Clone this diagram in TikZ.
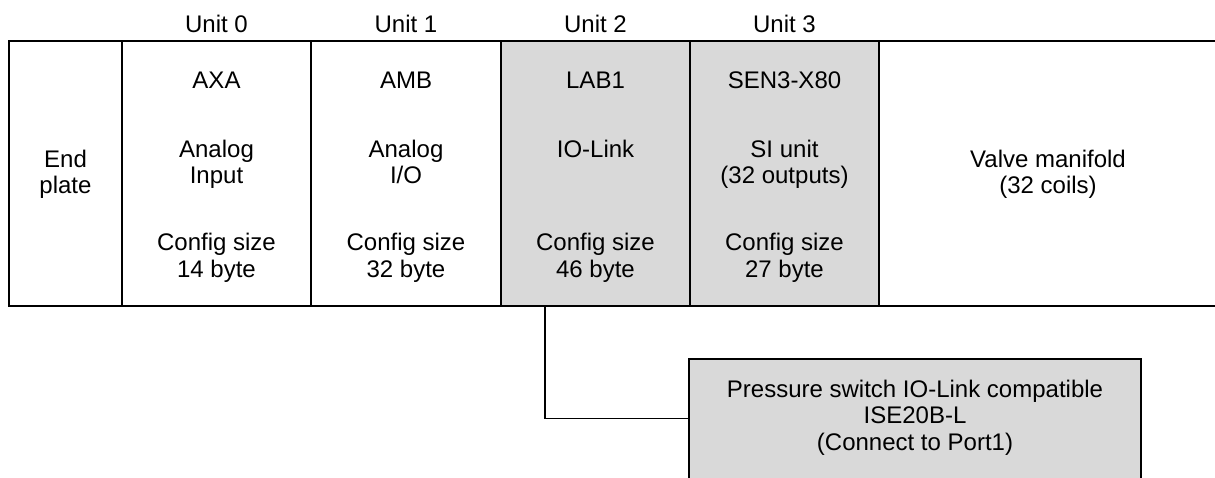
\documentclass[tikz,border=0pt]{standalone}
\usepackage{fontspec}
\setmainfont{Liberation Sans}
\definecolor{cellgray}{HTML}{D9D9D9}
\begin{document}
\begin{tikzpicture}[x=1pt,y=-1pt,
  cellbox/.style={draw, line width=2pt, minimum height=265pt, inner sep=0pt},
  grayfill/.style={fill=cellgray},
  txt/.style={font=\fontsize{24}{26.5}\selectfont, anchor=base, inner sep=0pt},
  conn/.style={line width=1.4pt},
  psbox/.style={draw, fill=cellgray, line width=1.6pt, minimum width=452pt, minimum height=125pt, inner sep=0pt}]
\useasboundingbox (0,0) rectangle (1215,477);
% cells
\node[cellbox, minimum width=113pt] (ep) at (65.5,173.5) {};
\node[cellbox, minimum width=189pt] (u0) at (216.5,173.5) {};
\node[cellbox, minimum width=190pt] (u1) at (406,173.5) {};
\node[cellbox, grayfill, minimum width=189pt] (u2) at (595.5,173.5) {};
\node[cellbox, grayfill, minimum width=189pt] (u3) at (784.5,173.5) {};
\node[minimum height=265pt, minimum width=340pt, inner sep=0pt] (vm) at (1049,173.5) {};
\draw[line width=2pt] (vm.north west) -- (vm.north east);
\draw[line width=2pt] (vm.south west) -- (vm.south east);
% unit labels
\node[txt] (l0) at (216.5,32) {Unit 0};
\node[txt] (l1) at (406,32) {Unit 1};
\node[txt] (l2) at (595.5,32) {Unit 2};
\node[txt] (l3) at (784.5,32) {Unit 3};
% end plate
\node[txt] (ep1) at (65.5,167) {End};
\node[txt] (ep2) at (65.5,193.5) {plate};
% unit 0
\node[txt] (a0) at (216.5,88) {AXA};
\node[txt] (b0) at (216.5,157) {Analog};
\node[txt] (c0) at (216.5,183.5) {Input};
\node[txt] (d0) at (216.5,250.5) {Config size};
\node[txt] (e0) at (216.5,277) {14 byte};
% unit 1
\node[txt] (a1) at (406,88) {AMB};
\node[txt] (b1) at (406,157) {Analog};
\node[txt] (c1) at (406,183.5) {I/O};
\node[txt] (d1) at (406,250.5) {Config size};
\node[txt] (e1) at (406,277) {32 byte};
% unit 2
\node[txt] (a2) at (595.5,88) {LAB1};
\node[txt] (b2) at (595.5,157) {IO-Link};
\node[txt] (d2) at (595.5,250.5) {Config size};
\node[txt] (e2) at (595.5,277) {46 byte};
% unit 3
\node[txt] (a3) at (784.5,88) {SEN3-X80};
\node[txt] (b3) at (784.5,157) {SI unit};
\node[txt] (c3) at (784.5,183.5) {(32 outputs)};
\node[txt] (d3) at (784.5,250.5) {Config size};
\node[txt] (e3) at (784.5,277) {27 byte};
% valve manifold
\node[txt] (vm1) at (1048,167) {Valve manifold};
\node[txt] (vm2) at (1048,193.5) {(32 coils)};
% pressure switch
\node[psbox] (ps) at (915,421.5) {};
\node[txt] (ps1) at (915,397) {Pressure switch IO-Link compatible};
\node[txt] (ps2) at (915,423.5) {ISE20B-L};
\node[txt] (ps3) at (915,450) {(Connect to Port1)};
\coordinate (tap) at (545,306);
\draw[conn] (tap) |- ([yshift=3pt]ps.west);
\end{tikzpicture}
\end{document}
